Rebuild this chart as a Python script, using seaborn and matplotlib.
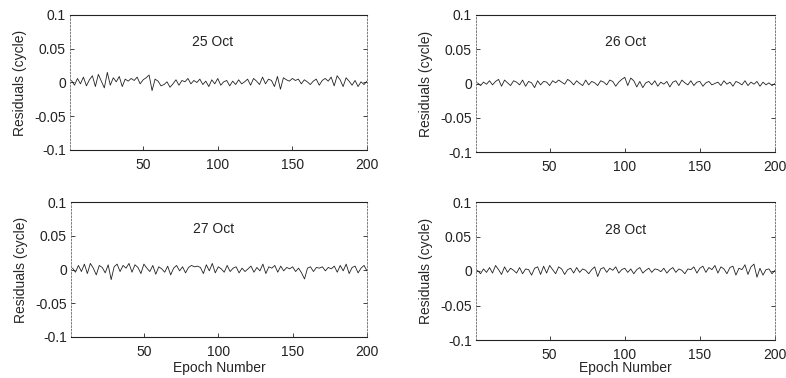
import numpy as np
import pandas as pd
import matplotlib
matplotlib.use("Agg")
import matplotlib.pyplot as plt
import seaborn as sns

# ---- data (residuals in cycles, every 2nd epoch) ----
days = ["25 Oct", "26 Oct", "27 Oct", "28 Oct"]

res_25 = [0.003, -0.004, 0.006, -0.002, 0.008, -0.005, 0.004, 0.010, -0.006, 0.012,
          0.002, -0.008, 0.015, -0.004, 0.007, 0.001, 0.009, -0.006, 0.005, 0.002,
          0.006, 0.003, 0.008, -0.002, 0.004, 0.007, 0.011, -0.012, 0.005, 0.002,
          -0.005, -0.003, 0.001, -0.007, -0.002, 0.004, -0.004, 0.003, 0.001, 0.006,
          -0.002, 0.003, 0.000, 0.005, -0.003, 0.002, -0.006, 0.004, -0.002, 0.006,
          -0.004, 0.001, 0.003, -0.005, 0.002, -0.003, 0.004, -0.002, 0.001, 0.005,
          -0.004, 0.006, 0.002, -0.003, 0.008, -0.002, 0.005, 0.003, -0.006, 0.009,
          -0.010, 0.007, 0.004, 0.002, 0.006, 0.003, 0.005, -0.002, 0.004, 0.001,
          -0.003, 0.002, 0.005, -0.004, 0.003, 0.006, 0.002, 0.008, -0.005, 0.010,
          0.004, -0.006, 0.007, 0.002, -0.004, 0.003, -0.006, 0.001, -0.003, 0.002]

res_26 = [0.001, -0.003, 0.002, -0.001, 0.004, -0.002, 0.003, 0.006, -0.004, 0.005,
          0.001, -0.003, 0.004, 0.002, -0.002, 0.005, -0.004, 0.003, 0.001, -0.006,
          0.004, -0.002, 0.003, 0.002, -0.003, 0.004, 0.001, 0.005, 0.002, -0.001,
          0.006, 0.003, -0.002, 0.004, 0.000, -0.003, 0.005, -0.002, 0.003, 0.001,
          -0.003, 0.004, 0.002, -0.002, 0.005, 0.003, -0.004, 0.002, 0.006, 0.009,
          -0.003, 0.008, 0.004, -0.005, 0.003, -0.006, 0.001, 0.003, -0.002, 0.004,
          -0.004, 0.002, -0.001, 0.003, -0.005, 0.002, 0.004, -0.003, 0.005, 0.001,
          -0.002, 0.004, -0.003, 0.002, 0.003, -0.004, 0.001, 0.003, -0.002, 0.000,
          0.002, -0.003, 0.004, -0.001, 0.002, -0.004, 0.003, 0.001, -0.002, 0.004,
          -0.003, 0.002, -0.001, 0.003, -0.004, 0.002, -0.002, 0.001, -0.003, 0.000]

res_27 = [0.002, -0.004, 0.006, -0.003, 0.008, -0.006, 0.009, 0.002, -0.008, 0.006,
          0.003, -0.005, 0.007, -0.015, 0.004, 0.008, -0.003, 0.006, 0.002, 0.009,
          -0.004, 0.007, 0.003, -0.006, 0.008, 0.002, -0.003, 0.006, -0.007, 0.004,
          0.001, -0.004, 0.005, -0.008, 0.002, 0.006, -0.002, 0.004, -0.005, 0.003,
          0.006, 0.004, 0.005, 0.003, -0.006, 0.007, -0.002, 0.009, -0.005, 0.004,
          0.001, -0.004, 0.006, -0.003, 0.002, 0.004, -0.005, 0.002, -0.003, 0.001,
          0.005, -0.004, 0.003, -0.002, 0.008, -0.006, 0.004, 0.002, 0.006, -0.004,
          0.005, -0.002, 0.003, 0.001, 0.004, -0.003, 0.002, -0.005, -0.014, 0.002,
          0.004, -0.003, 0.003, 0.002, 0.004, -0.002, 0.003, 0.001, 0.005, -0.004,
          0.006, -0.002, 0.008, -0.006, 0.003, 0.005, -0.005, 0.002, 0.006, -0.002]

res_28 = [0.001, -0.004, 0.003, -0.002, 0.005, -0.003, 0.008, 0.002, -0.005, 0.006,
          -0.002, 0.004, 0.001, -0.003, 0.005, -0.004, 0.003, 0.002, -0.006, 0.004,
          0.006, -0.005, 0.007, -0.003, 0.008, 0.002, -0.004, 0.006, 0.003, -0.005,
          0.002, 0.004, -0.003, 0.005, -0.002, 0.003, 0.001, -0.004, 0.002, 0.006,
          -0.008, 0.003, 0.005, -0.002, 0.004, 0.001, 0.006, -0.003, 0.002, 0.004,
          -0.002, 0.003, -0.004, 0.002, 0.005, -0.003, 0.001, 0.004, -0.002, 0.003,
          0.002, -0.001, 0.004, -0.003, 0.002, 0.005, -0.002, 0.003, 0.001, -0.004,
          0.003, 0.002, 0.006, -0.003, 0.004, 0.007, -0.002, 0.005, 0.002, 0.008,
          -0.003, 0.006, 0.003, -0.004, 0.005, 0.007, -0.006, 0.004, 0.002, 0.009,
          -0.005, 0.006, 0.010, -0.009, 0.004, -0.006, 0.002, 0.003, -0.004, 0.001]

series = [res_25, res_26, res_27, res_28]
xticks = [50, 100, 150, 200]
yticks = [-0.1, -0.05, 0, 0.05, 0.1]
ytick_labels = ["-0.1", "-0.05", "0", "0.05", "0.1"]

# ---- figure ----
sns.set_style("white")
plt.rcParams['font.family'] = ['Liberation Sans', 'DejaVu Sans']
FS = 10

W, H = 786, 378
fig = plt.figure(figsize=(W / 100, H / 100), dpi=100)

# pixel boxes: left, top, right, bottom
boxes = [(70, 15, 367, 150), (476, 15, 775, 152),
         (71, 202, 367, 337), (476, 202, 775, 340)]

for i, (day, vals) in enumerate(zip(days, series)):
    l, t, r, b = boxes[i]
    ax = fig.add_axes([l / W, 1 - b / H, (r - l) / W, (b - t) / H])
    df = pd.DataFrame({"epoch": np.arange(1, len(vals) + 1) * 2, "res": vals})
    sns.lineplot(data=df, x="epoch", y="res", ax=ax, color="#222222",
                 linewidth=0.6, estimator=None)
    ax.set_xlim(1, 200)
    ax.set_ylim(-0.1, 0.1)
    ax.set_xticks(xticks)
    ax.set_xticklabels([str(v) for v in xticks], fontsize=FS)
    ax.set_yticks(yticks)
    ax.set_yticklabels(ytick_labels, fontsize=FS)
    ax.tick_params(axis="x", pad=6)
    ax.tick_params(axis="y", pad=3)
    ax.tick_params(direction="in", length=3, width=0.6, colors="#222222",
                   left=True, right=True, bottom=True, top=False)
    for s in ax.spines.values():
        s.set_linewidth(0.8)
        s.set_color("#222222")
    for s in ("left", "right"):
        ax.spines[s].set_linestyle((0, (2, 2)))
        ax.spines[s].set_linewidth(0.6)
        ax.spines[s].set_color("#666666")
    ax.set_ylabel("Residuals (cycle)", fontsize=FS)
    ax.yaxis.set_label_coords(-0.145, 0.5)
    if i >= 2:
        ax.set_xlabel("Epoch Number", fontsize=FS)
        ax.xaxis.label.set_va("center")
        ax.xaxis.set_label_coords(0.5, -(368 - b) / (b - t))
    else:
        ax.set_xlabel("")
    xpos = 0.48 if i % 2 == 0 else 0.5
    ax.text(xpos, 0.80, day, transform=ax.transAxes, ha="center",
            va="center", fontsize=FS, color="#222222")

fig.savefig("out.png", dpi=100, facecolor="white")
